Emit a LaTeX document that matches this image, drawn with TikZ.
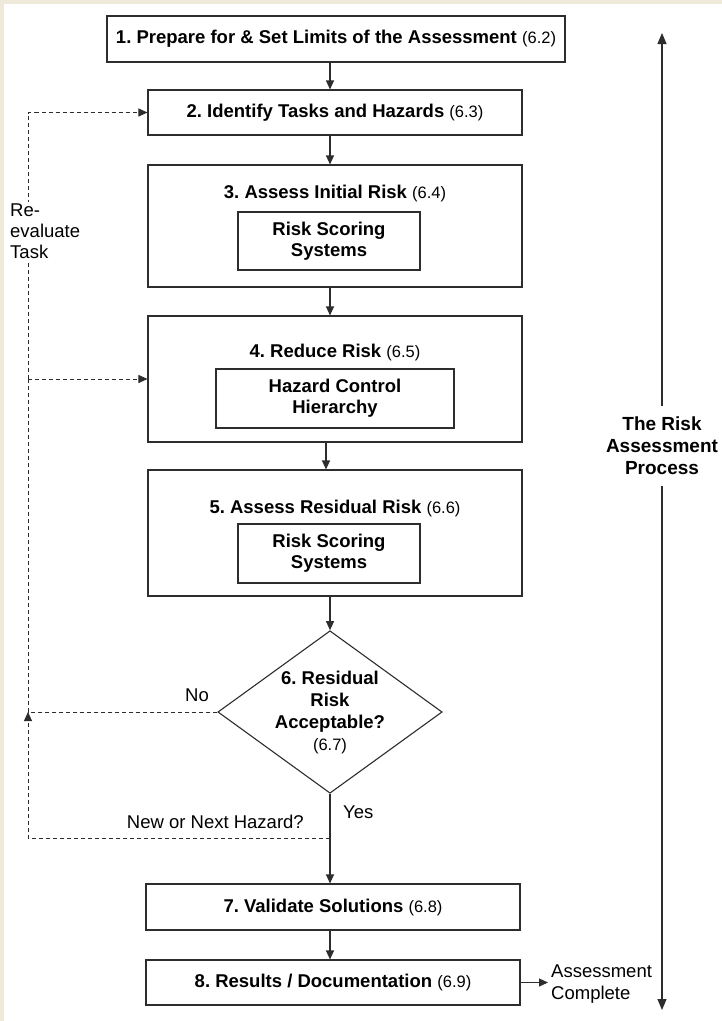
\documentclass[tikz,border=0pt]{standalone}
\usepackage{fontspec}
\setmainfont{Liberation Sans}
\frenchspacing
\usetikzlibrary{arrows.meta,shapes.geometric}
\definecolor{beige}{RGB}{239,233,217}
\definecolor{ln}{RGB}{45,45,45}
\newcommand\bfnt{\fontsize{18.5}{21}\selectfont\bfseries}
\newcommand\rgfnt{\fontsize{18.5}{21.5}\selectfont}
\newcommand\sect[1]{{\mdseries\fontsize{16.5}{21}\selectfont #1}}
\tikzset{
  box/.style={draw=ln, line width=1.1pt, fill=white, inner sep=0pt, align=center, font=\bfnt},
  ttl/.style={inner sep=0pt, anchor=base, font=\bfnt},
  arr/.style={draw=ln, line width=1.1pt, -{Triangle[length=9pt,width=8pt]}},
  bigarr/.style={draw=ln, line width=1.1pt, -{Triangle[length=11pt,width=9pt]}},
  dsh/.style={draw=ln, line width=0.9pt, dash pattern=on 4pt off 3pt},
  dsharr/.style={dsh, -{Triangle[length=9pt,width=8pt]}},
  lbl/.style={inner sep=0pt, font=\rgfnt},
}
\begin{document}
\begin{tikzpicture}[x=1pt,y=-1pt]
\useasboundingbox (0,0) rectangle (722,1021);
\fill[beige] (0,0) rectangle (722,1021);
\fill[white] (4,4) rectangle (722,1021);

% main boxes
\node[box, minimum width=458pt, minimum height=46pt] (b1) at (336,39) {1. Prepare for \& Set Limits of the Assessment \sect{(6.2)}};
\node[box, minimum width=374pt, minimum height=45pt] (b2) at (335,112.5) {2. Identify Tasks and Hazards \sect{(6.3)}};

\node[box, minimum width=374pt, minimum height=122pt] (b3) at (335,226) {};
\node[ttl] (t3) at (335,198.5) {3. Assess Initial Risk \sect{(6.4)}};
\node[box, minimum width=182pt, minimum height=58pt] (i3) at (329,241) {Risk Scoring\\Systems};

\node[box, minimum width=374pt, minimum height=126pt] (b4) at (335,379) {};
\node[ttl] (t4) at (335,357.5) {4. Reduce Risk \sect{(6.5)}};
\node[box, minimum width=238pt, minimum height=59pt] (i4) at (335,398.5) {Hazard Control\\Hierarchy};

\node[box, minimum width=374pt, minimum height=126pt] (b5) at (335,533) {};
\node[ttl] (t5) at (335,513.5) {5. Assess Residual Risk \sect{(6.6)}};
\node[box, minimum width=182pt, minimum height=59pt] (i5) at (329,553.5) {Risk Scoring\\Systems};

\node[box, shape=diamond, minimum width=221pt, minimum height=160pt, aspect=1.38, font=\fontsize{18.5}{22}\selectfont\bfseries] (d6) at (330,712) {6. Residual\\Risk\\Acceptable?\\\sect{(6.7)}};

\node[box, minimum width=374pt, minimum height=46pt] (b7) at (333,907) {7. Validate Solutions \sect{(6.8)}};
\node[box, minimum width=374pt, minimum height=45pt] (b8) at (333,982.5) {8. Results / Documentation \sect{(6.9)}};

% labels
\node[lbl] (no) at (197,695) {No};
\node[lbl, anchor=west] (yes) at (343,812) {Yes};
\node[lbl, anchor=east] (nxt) at (304,822) {New or Next Hazard?};
\node[lbl, anchor=west, align=left, font=\fontsize{18.5}{22}\selectfont] (ac) at (551,984) {Assessment\\Complete};
\node[inner sep=0pt, fill=white, minimum height=79pt, minimum width=112pt, align=center, font=\fontsize{19}{22}\selectfont\bfseries] (rap) at (662,446) {The Risk\\Assessment\\Process};

% main flow
\draw[arr] (b1.south -| d6) -- (b2.north -| d6);
\draw[arr] (b2.south -| d6) -- (b3.north -| d6);
\draw[arr] (b3.south -| d6) -- (b4.north -| d6);
\draw[arr] ([xshift=-4pt]b4.south -| d6) -- ([xshift=-4pt]b5.north -| d6);
\draw[arr] (b5.south -| d6) -- (d6.north);
\draw[arr] (d6.south) -- (b7.north -| d6);
\draw[arr] (b7.south -| d6) -- (b8.north -| d6);
\draw[arr] (b8.east) -- ([xshift=-3pt]b8.east -| ac.west);

% loop back
\coordinate (cNo) at (28,712);
\coordinate (cBL) at (28,838);
\coordinate (cJ) at (d6.south |- cBL);
\coordinate (c4) at (cNo |- b4.west);
\coordinate (c2) at (cNo |- b2.west);
\draw[dsh] (d6.west) -- (cNo);
\draw[dsharr] (cJ) -- (cBL) -- (cNo);
\draw[dsh] (cNo) -- (c4);
\draw[dsharr] (c4) -- (b4.west);
\draw[dsharr] (c4) -- (c2) -- (b2.west);
\node[lbl, anchor=west, align=left, fill=white, inner sep=2pt, font=\fontsize{18.5}{21}\selectfont] (re) at (8,231) {Re-\\evaluate\\Task};

% big arrow
\coordinate (pt) at (662,33);
\coordinate (pb) at (662,1010);
\draw[bigarr] (rap.north) -- (pt);
\draw[bigarr] (rap.south) -- (pb);
\end{tikzpicture}
\end{document}
